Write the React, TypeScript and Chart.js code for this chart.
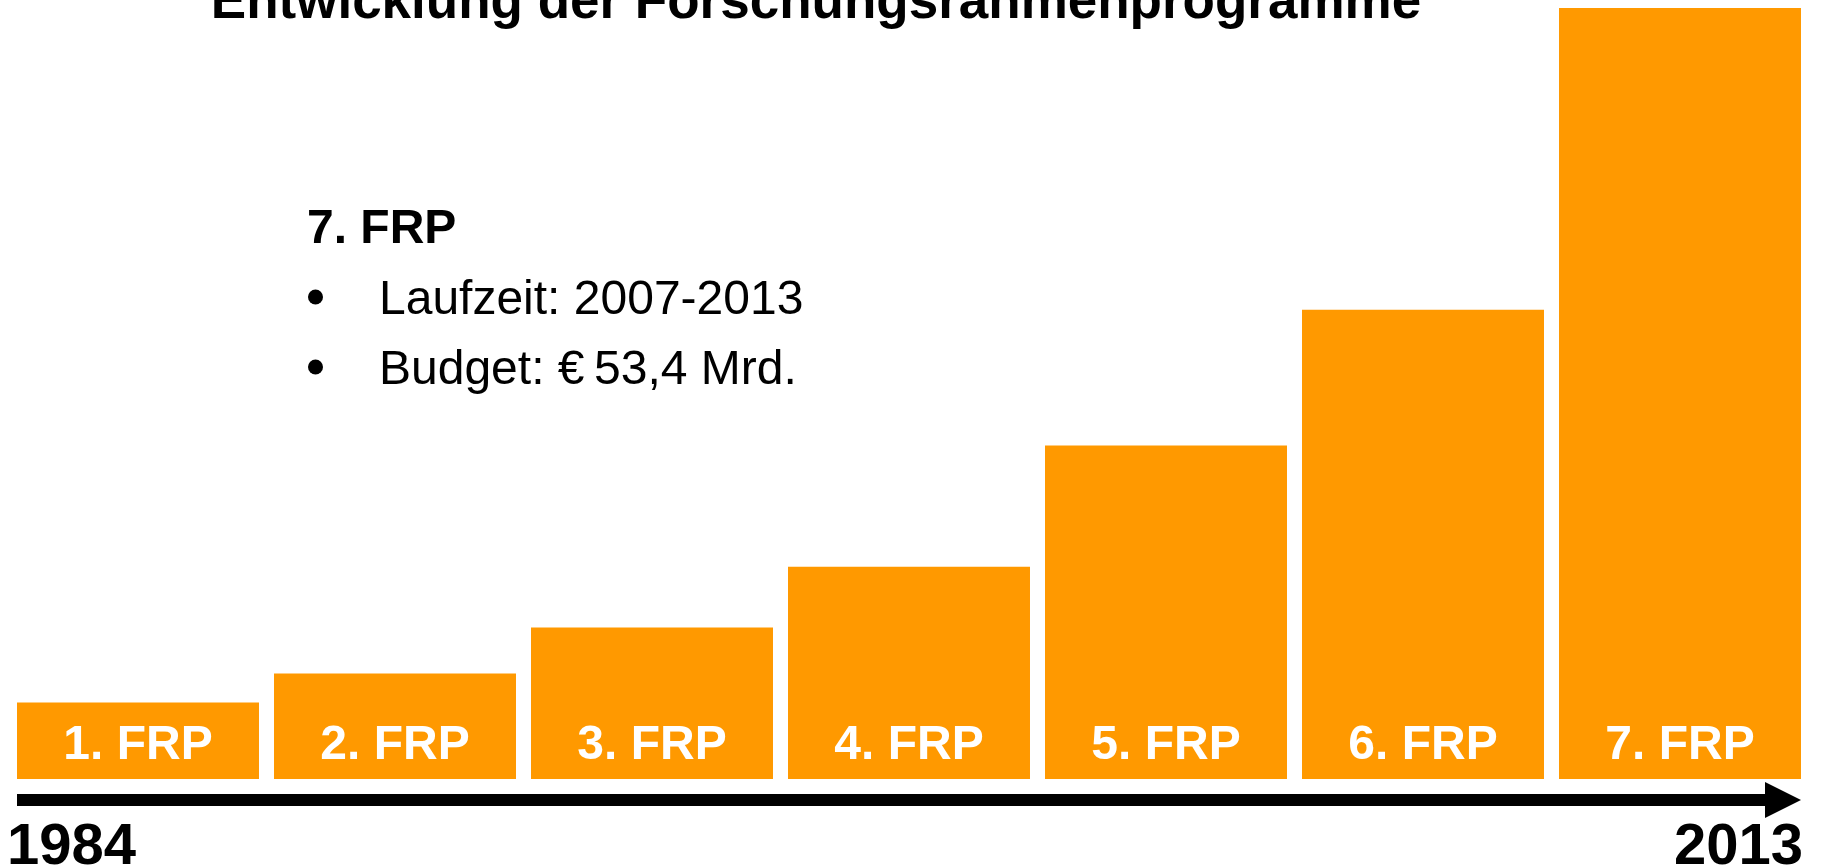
import React, { useEffect, useRef } from "react";
import { Chart, registerables } from "chart.js";

Chart.register(...registerables);

const categories = ["1. FRP", "2. FRP", "3. FRP", "4. FRP", "5. FRP", "6. FRP", "7. FRP"];
const barValues = [5.3, 7.3, 10.5, 14.7, 23.1, 32.5, 53.4];
const yearLabels = ["1984", "2013"];
const titleText = "Entwicklung der Forschungsrahmenprogramme";
const noteTitle = "7. FRP";
const noteLines = ["Laufzeit: 2007-2013", "Budget: €\u200953,4 Mrd."];

const ORANGE = "#FF9900";
const FONT = '"Liberation Sans", Arial, sans-serif';

const decorPlugin = {
  id: "decor",
  afterDatasetsDraw(chart: any) {
    const ctx = chart.ctx;
    const meta = chart.getDatasetMeta(0);
    const area = chart.chartArea;
    ctx.save();
    // bar labels
    ctx.fillStyle = "#FFFFFF";
    ctx.font = `bold 48px ${FONT}`;
    ctx.textAlign = "center";
    ctx.textBaseline = "alphabetic";
    meta.data.forEach((bar: any, i: number) => {
      ctx.fillText(categories[i], bar.x, area.bottom - 20);
    });

    // timeline arrow
    const first: any = meta.data[0];
    const last: any = meta.data[meta.data.length - 1];
    const x0 = first.x - first.width / 2;
    const x1 = last.x + last.width / 2;
    const yA = area.bottom + 21;
    ctx.fillStyle = "#000000";
    ctx.fillRect(x0, yA - 6, x1 - 36 - x0, 12);
    ctx.beginPath();
    ctx.moveTo(x1 - 36, yA - 18);
    ctx.lineTo(x1, yA);
    ctx.lineTo(x1 - 36, yA + 18);
    ctx.closePath();
    ctx.fill();

    // years
    ctx.font = `bold 58px ${FONT}`;
    ctx.textAlign = "left";
    ctx.fillText(yearLabels[0], x0 - 10, 864);
    ctx.textAlign = "right";
    ctx.fillText(yearLabels[1], x1 + 2, 864);

    // title
    ctx.font = `bold 53px ${FONT}`;
    ctx.textAlign = "center";
    ctx.fillText(titleText, 816, 18);

    // note
    ctx.textAlign = "left";
    ctx.font = `bold 48px ${FONT}`;
    ctx.fillText(noteTitle, 307, 243);
    ctx.font = `48px ${FONT}`;
    noteLines.forEach((line, i) => {
      const yb = 314 + i * 70;
      ctx.beginPath();
      ctx.arc(315.5, yb - 17, 7.5, 0, Math.PI * 2);
      ctx.fill();
      ctx.fillText(line, 379, yb);
    });
    ctx.restore();
  },
};

export default function App() {
  const ref = useRef<HTMLCanvasElement | null>(null);
  useEffect(() => {
    if (!ref.current) return;
    const chart = new Chart(ref.current, {
      type: "bar",
      data: {
        labels: categories,
        datasets: [
          {
            data: barValues,
            backgroundColor: ORANGE,
            borderWidth: 0,
            barPercentage: 0.9416,
            categoryPercentage: 1,
          },
        ],
      },
      options: {
        animation: false,
        responsive: false,
        layout: { padding: { left: 9.5, right: 12.5, top: 8, bottom: 88 } },
        plugins: { legend: { display: false }, title: { display: false }, tooltip: { enabled: false } },
        scales: {
          x: { display: false, grid: { display: false } },
          y: { display: false, min: 0, max: 53.4 },
        },
      },
      plugins: [decorPlugin],
    });
    return () => chart.destroy();
  }, []);
  return (
    <div style={{ position: "fixed", left: 0, top: 0, width: 1821, height: 867, background: "#fff" }}>
      <canvas ref={ref} width={1821} height={867} style={{ display: "block" }} />
    </div>
  );
}
